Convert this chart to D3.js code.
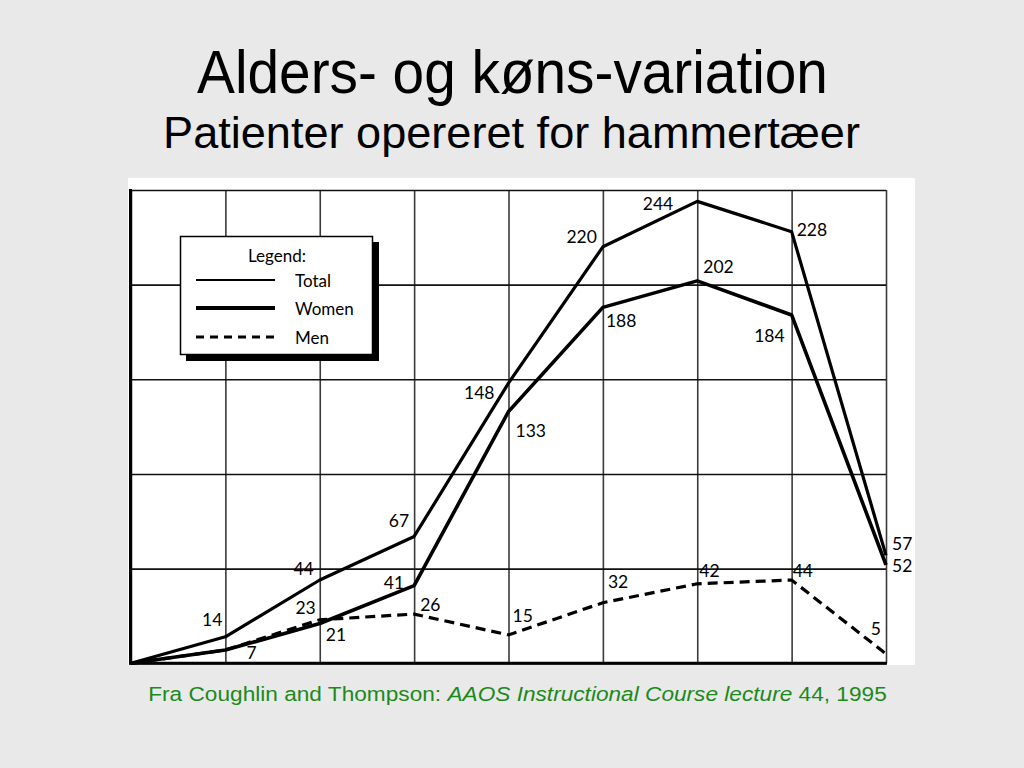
<!DOCTYPE html>
<html>
<head>
<meta charset="utf-8">
<script src="https://cdn.jsdelivr.net/npm/d3@7"></script>
<style>
  html, body { margin: 0; padding: 0; background: #e9e9e9; }
  svg { display: block; }
</style>
</head>
<body>
<svg id="chart" width="1024" height="768"></svg>
<script>
// ---- data ----
const ageGroups = ["0", "1", "2", "3", "4", "5", "6", "7", "8"];
const totalValues = [0, 14, 44, 67, 148, 220, 244, 228, 57];
const womenValues = [0, 7, 21, 41, 133, 188, 202, 184, 52];
const menValues   = [0, 7, 23, 26, 15, 32, 42, 44, 5];
const gridValues  = [0, 50, 100, 150, 200, 250];
const legendLabels = ["Total", "Women", "Men"];
const titleText = "Alders- og køns-variation";
const subtitleText = "Patienter opereret for hammertæer";

// label placement (dx, dy, anchor) per point; null = no label
const totalLabelPos = [null, [-3,-11,"end"], [-6,-5,"end"], [-5,-9,"end"], [-14,16,"end"], [-6,-4,"end"], [-24,9,"end"], [5,4,"start"], [6,-5,"start"]];
const womenLabelPos = [null, [21,9,"start"], [6,17,"start"], [-10,3,"end"], [7,25,"start"], [3,20,"start"], [6,-8,"start"], [-7,27,"end"], [6,7,"start"]];
const menLabelPos   = [null, null, [-4,-6,"end"], [6,-3,"start"], [4,-13,"start"], [5,-15,"start"], [2,-7,"start"], [1,-3,"start"], [-5,-19,"end"]];

const svg = d3.select("#chart");

// ---- titles ----
function fitText(sel, width) {
  const w = sel.node().getComputedTextLength();
  const cx = +sel.attr("x");
  sel.attr("transform", `translate(${cx},0) scale(${width / w},1) translate(${-cx},0)`);
}
const t1 = svg.append("text").attr("x", 512.5).attr("y", 93)
  .attr("text-anchor", "middle").attr("font-family", "Liberation Sans, Arial, sans-serif")
  .attr("font-size", 61).attr("fill", "#000").text(titleText);
fitText(t1, 631);
const t2 = svg.append("text").attr("x", 511.5).attr("y", 148)
  .attr("text-anchor", "middle").attr("font-family", "Liberation Sans, Arial, sans-serif")
  .attr("font-size", 45).attr("fill", "#000").text(subtitleText);
fitText(t2, 697);
const cap = svg.append("text").attr("x", 517.5).attr("y", 701)
  .attr("text-anchor", "middle").attr("font-family", "Liberation Sans, Arial, sans-serif")
  .attr("font-size", 19.5).attr("fill", "#1b8a1b");
cap.append("tspan").text("Fra Coughlin and Thompson: ");
cap.append("tspan").attr("font-style", "italic").text("AAOS Instructional Course lecture");
cap.append("tspan").text(" 44, 1995");
fitText(cap, 739);

// ---- panel ----
svg.append("rect").attr("x", 128).attr("y", 178).attr("width", 787).attr("height", 487).attr("fill", "#fff");

const x = d3.scalePoint().domain(ageGroups).range([131, 886]);
const y = d3.scaleLinear().domain([0, 250]).range([663.3, 190]);

// vertical grid via axis
const gx = svg.append("g").attr("transform", "translate(0,190)")
  .call(d3.axisBottom(x).tickSize(473.3).tickFormat(""));
gx.select(".domain").remove();
gx.selectAll(".tick line").attr("stroke", "#3a3a3a").attr("stroke-width", 1.6);

// horizontal grid via axis
const gy = svg.append("g").attr("transform", "translate(131,0)")
  .call(d3.axisRight(y).tickValues(gridValues).tickSize(755).tickFormat(""));
gy.select(".domain").remove();
gy.selectAll(".tick line").attr("stroke", "#111").attr("stroke-width", 1.6);

// frame: left and bottom heavy
svg.append("line").attr("x1", 130.5).attr("x2", 130.5).attr("y1", 189).attr("y2", 664.5).attr("stroke", "#000").attr("stroke-width", 3);
svg.append("line").attr("x1", 129).attr("x2", 887).attr("y1", y(0)).attr("y2", y(0)).attr("stroke", "#000").attr("stroke-width", 3);

// ---- lines ----
const line = d3.line().x((d, i) => x(ageGroups[i])).y(d => y(d));
svg.append("path").datum(menValues).attr("d", line).attr("fill", "none")
  .attr("stroke", "#000").attr("stroke-width", 3.2).attr("stroke-dasharray", "10,6");
svg.append("path").datum(womenValues).attr("d", line).attr("fill", "none")
  .attr("stroke", "#000").attr("stroke-width", 3.6).attr("stroke-linejoin", "round");
svg.append("path").datum(totalValues).attr("d", line).attr("fill", "none")
  .attr("stroke", "#000").attr("stroke-width", 3.2).attr("stroke-linejoin", "round");

// ---- labels ----
function labels(values, pos) {
  svg.append("g").selectAll("text").data(values.map((v, i) => ({v, i, p: pos[i]})).filter(d => d.p))
    .join("text")
    .attr("x", d => x(ageGroups[d.i]) + d.p[0])
    .attr("y", d => y(d.v) + d.p[1])
    .attr("text-anchor", d => d.p[2])
    .attr("font-family", "Lato, 'DejaVu Sans', sans-serif")
    .attr("font-size", 17.5).attr("fill", "#000")
    .text(d => d.v);
}
labels(totalValues, totalLabelPos);
labels(womenValues, womenLabelPos);
labels(menValues, menLabelPos);

// ---- legend ----
const lg = svg.append("g");
lg.append("rect").attr("x", 186).attr("y", 242).attr("width", 193).attr("height", 119).attr("fill", "#000");
lg.append("rect").attr("x", 180.5).attr("y", 236.5).attr("width", 192).attr("height", 118)
  .attr("fill", "#fff").attr("stroke", "#000").attr("stroke-width", 1.5);
lg.append("text").attr("x", 277).attr("y", 262).attr("text-anchor", "middle")
  .attr("font-family", "Lato, 'DejaVu Sans', sans-serif").attr("font-size", 17).text("Legend:");
const legendStyles = [{w: 2.2, dash: null}, {w: 4, dash: null}, {w: 3, dash: "8,6"}];
const legendYs = [280, 308, 337];
legendLabels.forEach((lab, i) => {
  lg.append("line").attr("x1", 196).attr("x2", 275).attr("y1", legendYs[i]).attr("y2", legendYs[i])
    .attr("stroke", "#000").attr("stroke-width", legendStyles[i].w)
    .attr("stroke-dasharray", legendStyles[i].dash);
  lg.append("text").attr("x", 295).attr("y", legendYs[i] + 7)
    .attr("font-family", "Lato, 'DejaVu Sans', sans-serif").attr("font-size", 17).text(lab);
});
</script>
</body>
</html>
